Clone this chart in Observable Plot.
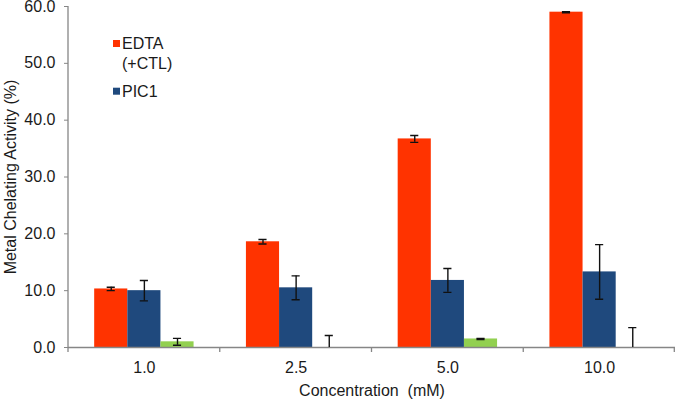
<!DOCTYPE html>
<html><head><meta charset="utf-8">
<script src="https://cdn.jsdelivr.net/npm/d3@7"></script>
<script src="https://cdn.jsdelivr.net/npm/@observablehq/plot@0.6"></script>
<style>
html,body{margin:0;padding:0;background:#fff;}
#chart svg{display:block;}
</style>
</head><body><div id="chart"></div>
<script>
const concentrations = ["1.0", "2.5", "5.0", "10.0"];
const seriesNames = ["EDTA (+CTL)", "PIC1", "Series 3"];
const legendLabels = [["EDTA", "(+CTL)"], ["PIC1"]];
const edtaValues = [10.3, 18.6, 36.7, 59.0];
const edtaErrors = [0.3, 0.4, 0.6, 0.1];
const pic1Values = [10.0, 10.5, 11.8, 13.3];
const pic1Errors = [1.8, 2.1, 2.1, 4.8];
const series3Values = [1.0, 0.0, 1.5, 0.0];
const series3Errors = [0.6, 2.1, 0.1, 3.5];
const yTicks = [0, 10, 20, 30, 40, 50, 60];
const colors = ["#FF3300", "#1F497D", "#92D050"];

const values = [edtaValues, pic1Values, series3Values];
const errors = [edtaErrors, pic1Errors, series3Errors];
const rows = [];
concentrations.forEach((c, i) => seriesNames.forEach((s, j) =>
  rows.push({conc: c, series: s, value: values[j][i], err: errors[j][i]})));

const yLabel = "Metal Chelating Activity (%)";
const errStyle = {stroke: "#111", strokeWidth: 1.4, clip: true};
const chart = Plot.plot({
  width: 675, height: 401,
  marginLeft: 68, marginRight: 0, marginTop: 6, marginBottom: 54,
  style: {fontFamily: "'Liberation Sans', Arial, sans-serif", fontSize: "16px", color: "#1a1a1a", background: "#fff", whiteSpace: "pre"},
  fx: {domain: concentrations, padding: 0, round: false, axis: "bottom", tickSize: 0, tickPadding: 14,
       label: "Concentration  (mM)", labelAnchor: "center", labelOffset: 48},
  x: {domain: seriesNames, paddingInner: 0, paddingOuter: 0.79, round: false, axis: null},
  y: {domain: [0, 60], ticks: yTicks, tickFormat: d => d.toFixed(1), tickSize: 4, tickPadding: 9,
      label: yLabel, labelAnchor: "center", labelOffset: 64, labelArrow: "none"},
  color: {domain: seriesNames, range: colors},
  marks: [
    Plot.barY(rows, {fx: "conc", x: "series", y: "value", fill: "series"}),
    Plot.ruleY([0], {stroke: "#868686", strokeWidth: 1.3}),
    Plot.ruleX(rows, {fx: "conc", x: "series", y1: d => d.value - d.err, y2: d => d.value + d.err, ...errStyle}),
    Plot.tickY(rows, {fx: "conc", x: "series", y: d => d.value + d.err, insetLeft: 12.5, insetRight: 12.5, ...errStyle}),
    Plot.tickY(rows, {fx: "conc", x: "series", y: d => d.value - d.err, insetLeft: 12.5, insetRight: 12.5, ...errStyle})
  ]
});
document.getElementById("chart").appendChild(chart);

const svg = d3.select(chart);
// strip any label arrow
svg.selectAll("text").each(function() {
  const t = this.textContent;
  if (t.includes(yLabel) && t !== yLabel) this.textContent = yLabel;
});
svg.selectAll("g[aria-label='y-axis tick'] path, g[aria-label='y-axis tick'] line").attr("stroke", "#868686");
const fxs = chart.scale("fx"), ys = chart.scale("y");
const [r0, r1] = fxs.range;
const step = (r1 - r0) / fxs.domain.length;
const yBottom = Math.max(...ys.range), yTop = Math.min(...ys.range);
const g = svg.append("g");
g.append("line").attr("x1", r0).attr("x2", r0).attr("y1", yTop).attr("y2", yBottom)
  .attr("stroke", "#868686").attr("stroke-width", 1.3);
d3.range(fxs.domain.length + 1).forEach(i => {
  const x = Math.min(r0 + i * step, r1 - 0.7);
  g.append("line").attr("x1", x).attr("x2", x).attr("y1", yBottom).attr("y2", yBottom + 5)
    .attr("stroke", "#868686").attr("stroke-width", 1.3);
});
const lg = svg.append("g").attr("font-size", 16).attr("fill", "#1a1a1a").attr("text-anchor", "start");
const legendRows = [[49, 69.3], [96.7]];
legendLabels.forEach((lines, k) => {
  const base = legendRows[k][0];
  lg.append("rect").attr("x", 113).attr("y", base - 9).attr("width", 7).attr("height", 7).attr("fill", colors[k]);
  lines.forEach((t, m) => lg.append("text").attr("x", 122).attr("y", legendRows[k][m]).text(t));
});
</script>
</body></html>
